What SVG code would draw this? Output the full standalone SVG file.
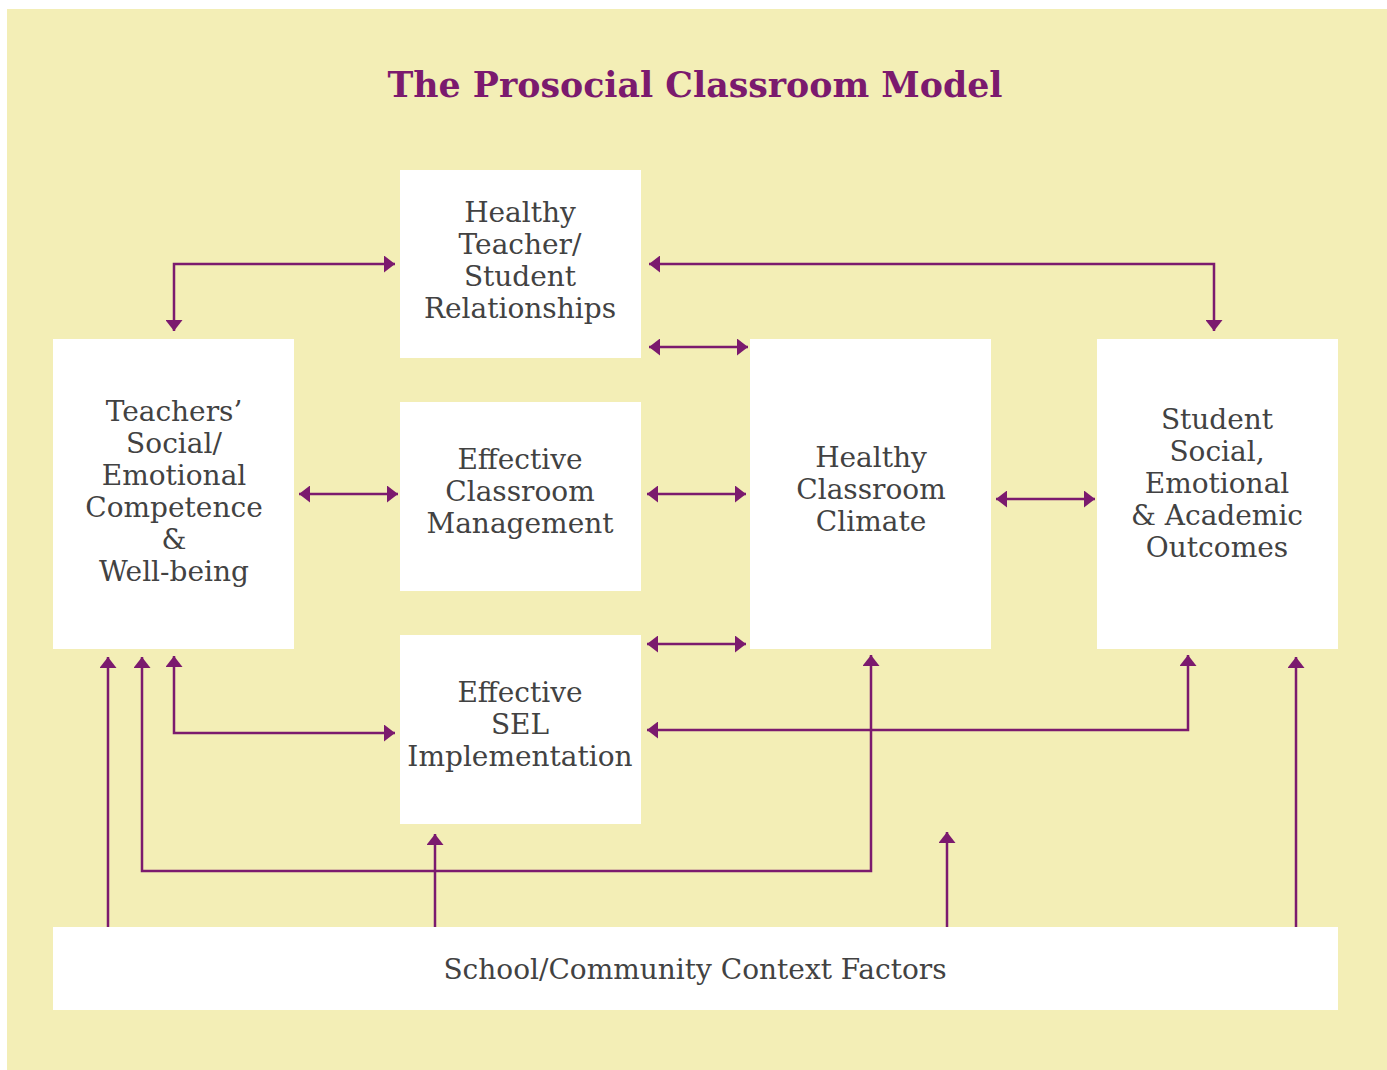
<svg xmlns="http://www.w3.org/2000/svg" width="1387" height="1070" viewBox="0 0 1387 1070">
<style>
.node{fill:#ffffff}
.lbl{font-family:"DejaVu Serif","Liberation Serif",serif;font-size:28px;fill:#424242;text-anchor:middle}
.title{font-family:"DejaVu Serif","Liberation Serif",serif;font-size:36px;font-weight:bold;fill:#7B1A6E;text-anchor:middle}
.con{fill:none;stroke:#7B1A6E;stroke-width:2.5}
.bi{marker-start:url(#ah);marker-end:url(#ah)}
.one{marker-end:url(#ah)}
</style>
<defs>
<marker id="ah" viewBox="0 0 11 17" refX="11" refY="8.5" markerWidth="11" markerHeight="17" markerUnits="userSpaceOnUse" orient="auto-start-reverse">
<path d="M0,0 L11,8.5 L0,17 Z" fill="#7B1A6E"/>
</marker>
</defs>
<rect x="0" y="0" width="1387" height="1070" fill="#ffffff"/>
<rect x="7" y="9" width="1380" height="1061" fill="#F3EEB6"/>
<text class="title" x="695" y="97" textLength="615" lengthAdjust="spacingAndGlyphs">The Prosocial Classroom Model</text>

<g id="connectors">
<path class="con bi" d="M174,331 V264 H395"/>
<path class="con bi" d="M649,264 H1214 V331"/>
<path class="con bi" d="M649,347 H748"/>
<path class="con bi" d="M299,494 H398"/>
<path class="con bi" d="M647,494 H746"/>
<path class="con bi" d="M996,499 H1095"/>
<path class="con bi" d="M647,644 H746"/>
<path class="con bi" d="M174,656 V733 H395"/>
<path class="con bi" d="M647,730 H1188 V655"/>
<path class="con bi" d="M871,655 V871 H142 V657"/>
<path class="con one" d="M108,927 V657"/>
<path class="con one" d="M435,927 V834"/>
<path class="con one" d="M947,927 V832"/>
<path class="con one" d="M1296,927 V657"/>
</g>

<g id="n-relationships">
<rect class="node" x="400" y="170" width="241" height="188"/>
<text class="lbl" x="520" y="222">Healthy</text>
<text class="lbl" x="520" y="254">Teacher/</text>
<text class="lbl" x="520" y="286">Student</text>
<text class="lbl" x="520" y="318">Relationships</text>
</g>
<g id="n-teachers">
<rect class="node" x="53" y="339" width="241" height="310"/>
<text class="lbl" x="174" y="421">Teachers’</text>
<text class="lbl" x="174" y="453">Social/</text>
<text class="lbl" x="174" y="485">Emotional</text>
<text class="lbl" x="174" y="517">Competence</text>
<text class="lbl" x="174" y="549">&amp;</text>
<text class="lbl" x="174" y="581">Well-being</text>
</g>
<g id="n-management">
<rect class="node" x="400" y="402" width="241" height="189"/>
<text class="lbl" x="520" y="469">Effective</text>
<text class="lbl" x="520" y="501">Classroom</text>
<text class="lbl" x="520" y="533">Management</text>
</g>
<g id="n-sel">
<rect class="node" x="400" y="635" width="241" height="189"/>
<text class="lbl" x="520" y="702">Effective</text>
<text class="lbl" x="520" y="734">SEL</text>
<text class="lbl" x="520" y="766">Implementation</text>
</g>
<g id="n-climate">
<rect class="node" x="750" y="339" width="241" height="310"/>
<text class="lbl" x="871" y="467">Healthy</text>
<text class="lbl" x="871" y="499">Classroom</text>
<text class="lbl" x="871" y="531">Climate</text>
</g>
<g id="n-outcomes">
<rect class="node" x="1097" y="339" width="241" height="310"/>
<text class="lbl" x="1217" y="429">Student</text>
<text class="lbl" x="1217" y="461">Social,</text>
<text class="lbl" x="1217" y="493">Emotional</text>
<text class="lbl" x="1217" y="525">&amp; Academic</text>
<text class="lbl" x="1217" y="557">Outcomes</text>
</g>
<g id="n-context">
<rect class="node" x="53" y="927" width="1285" height="83"/>
<text class="lbl" x="695" y="979">School/Community Context Factors</text>
</g>
</svg>
